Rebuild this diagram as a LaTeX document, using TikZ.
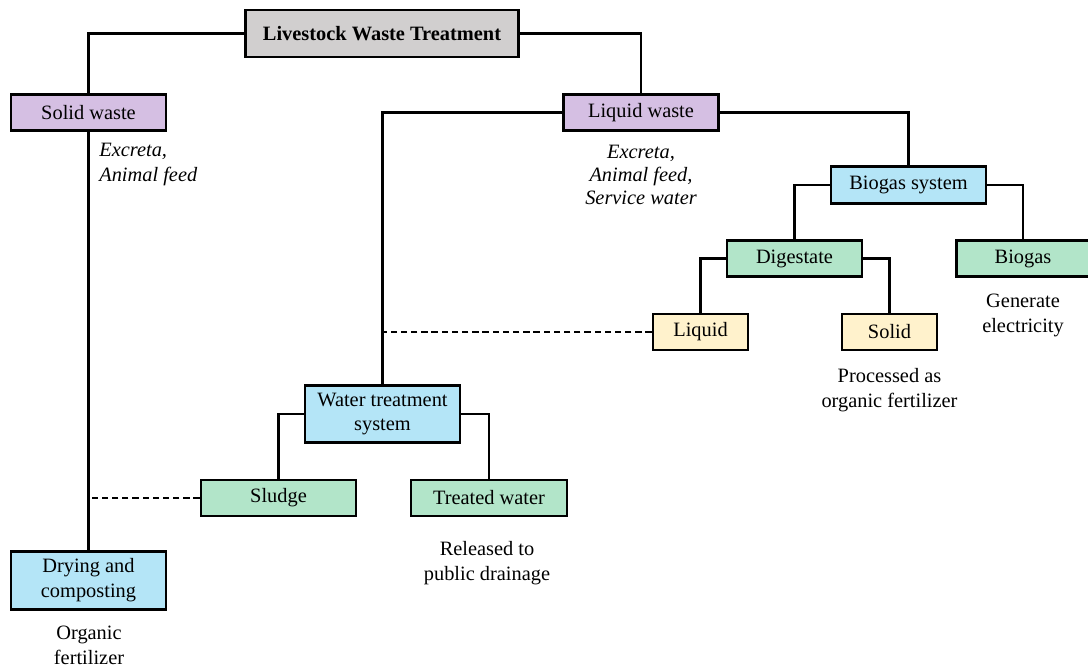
\documentclass[tikz,border=0pt]{standalone}
\usepackage{fontspec}
\setmainfont{Liberation Serif}
\definecolor{wastepurple}{RGB}{213,191,227}
\definecolor{sysblue}{RGB}{180,229,247}
\definecolor{prodgreen}{RGB}{178,229,201}
\definecolor{partyellow}{RGB}{255,242,204}
\definecolor{titlegray}{RGB}{209,207,207}

\begin{document}
\begin{tikzpicture}[x=0.02cm, y=-0.02cm,
    font=\fontsize{11.6}{14.2}\selectfont,
    box/.style={draw, line width=1.4pt, minimum width=3.1cm, minimum height=0.72cm, inner sep=2pt, align=center},
    link/.style={line width=1.2pt},
    sidelink/.style={line width=1.2pt, dash pattern=on 3.6pt off 2.2pt},
    note/.style={align=center, inner sep=0pt}]
      \useasboundingbox (0,0) rectangle (1088,667);
      % boxes
      \node[box, fill=titlegray, minimum width=5.46cm, minimum height=0.94cm, font=\fontsize{11.6}{14.2}\selectfont\bfseries] (title) at (382,33.5) {Livestock Waste Treatment};
      \node[box, fill=wastepurple] (solid) at (88.5,112.5) {Solid waste};
      \node[box, fill=wastepurple] (liquidw) at (641,112.5) {Liquid waste};
      \node[box, fill=sysblue, minimum height=0.74cm] (biosys) at (908.5,185) {Biogas system};
      \node[box, fill=prodgreen, minimum width=2.7cm] (digest) at (794.5,258.5) {Digestate};
      \node[box, fill=prodgreen, minimum width=2.66cm] (biogas) at (1023,258.5) {Biogas};
      \node[box, fill=partyellow, minimum width=1.9cm] (liq) at (700.5,332) {Liquid};
      \node[box, fill=partyellow, minimum width=1.9cm] (sol) at (889.5,332) {Solid};
      \node[box, fill=sysblue, minimum height=1.14cm] (wts) at (382.5,414) {Water treatment\\system};
      \node[box, fill=prodgreen] (sludge) at (278.5,498) {Sludge};
      \node[box, fill=prodgreen, minimum width=3.12cm] (treated) at (489,498) {Treated water};
      \node[box, fill=sysblue, minimum height=1.16cm] (dry) at (88.5,580.5) {Drying and\\composting};
      % connectors
      \draw[link] (title.west) -| (solid.north);
      \draw[link] (title.east) -| (liquidw.north);
      \draw[link] (liquidw.west) -| (wts.north);
      \draw[link] (liquidw.east) -| (biosys.north);
      \draw[link] (biosys.west) -| (digest.north);
      \draw[link] (biosys.east) -| (biogas.north);
      \draw[link] (digest.west) -| (liq.north);
      \draw[link] (digest.east) -| (sol.north);
      \draw[link] (wts.west) -| (sludge.north);
      \draw[link] (wts.east) -| (treated.north);
      \draw[link] (solid.south) -- (dry.north);
      \draw[sidelink] (liq.west) -- (liq.west -| wts.north);
      \draw[sidelink] (sludge.west) -- (sludge.west -| solid.south);
      % notes
      \node[note, align=left, anchor=north west, font=\fontsize{11.6}{14.2}\selectfont\itshape] (solidsrc) at (99,143) {Excreta,\\Animal feed};
      \node[note, anchor=north, font=\fontsize{11.6}{13}\selectfont\itshape] (liquidsrc) at (641,145) {Excreta,\\Animal feed,\\Service water};
      \node[note, anchor=north] (biogasuse) at (1023,294) {Generate\\electricity};
      \node[note, anchor=north] (soluse) at (889.5,368) {Processed as\\organic fertilizer};
      \node[note, anchor=north] (wateruse) at (487,541) {Released to\\public drainage};
      \node[note, anchor=north] (dryuse) at (89,626) {Organic\\fertilizer};
    \end{tikzpicture}
\end{document}
